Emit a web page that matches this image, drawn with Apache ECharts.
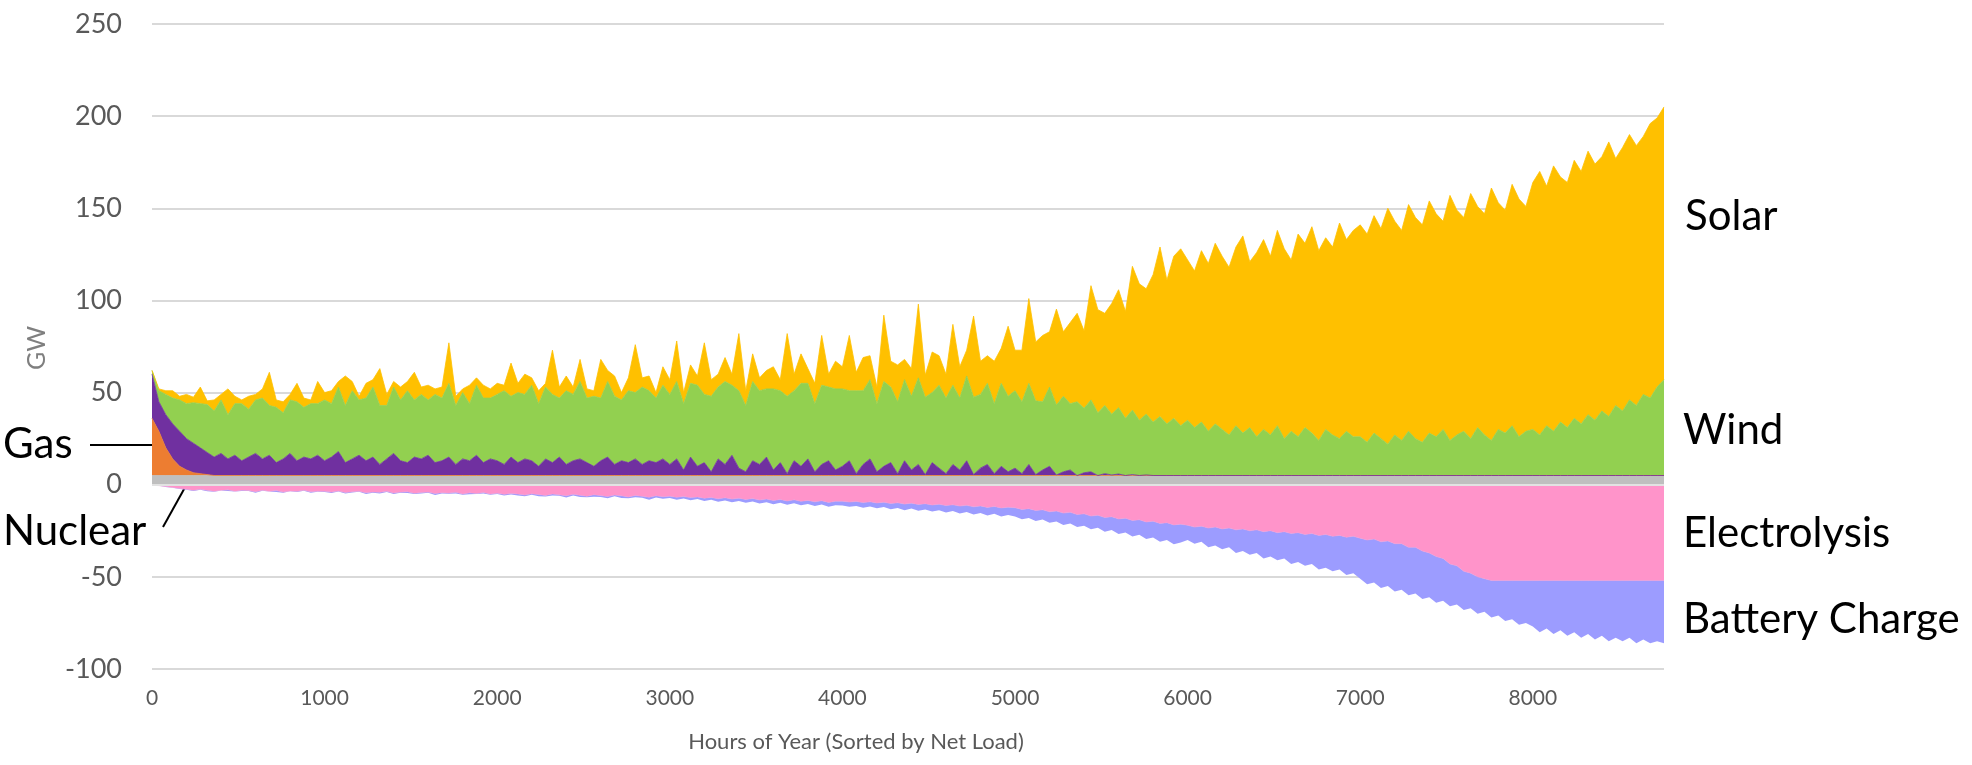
<!DOCTYPE html>
<html><head><meta charset="utf-8">
<script src="https://cdn.jsdelivr.net/npm/echarts@6/dist/echarts.min.js"></script>
<style>html,body{margin:0;padding:0;background:#fff}#c{width:1972px;height:765px}</style>
</head><body><div id="c"></div>
<script>
// Sample points every 40 hours (0 .. 8760), values in GW
const hours = []; for (let i = 0; i < 220; i++) hours.push(String(i * 40));
const xTickEvery = 25; // 25 samples x 40 h = 1000 h between labels
const yTicks = [-100,-50,0,50,100,150,200,250];

const nuclear = [
5,5,5,5,5,5,5,5,5,5,5,5,5,5,5,5,5,5,5,5,5,5,5,5,5,
5,5,5,5,5,5,5,5,5,5,5,5,5,5,5,5,5,5,5,5,5,5,5,5,5,
5,5,5,5,5,5,5,5,5,5,5,5,5,5,5,5,5,5,5,5,5,5,5,5,5,
5,5,5,5,5,5,5,5,5,5,5,5,5,5,5,5,5,5,5,5,5,5,5,5,5,
5,5,5,5,5,5,5,5,5,5,5,5,5,5,5,5,5,5,5,5,5,5,5,5,5,
5,5,5,5,5,5,5,5,5,5,5,5,5,5,5,5,5,5,5,5,5,5,5,5,5,
5,5,5,5,5,5,5,5,5,5,5,5,5,5,5,5,5,5,5,5,5,5,5,5,5,
5,5,5,5,5,5,5,5,5,5,5,5,5,5,5,5,5,5,5,5,5,5,5,5,5,
5,5,5,5,5,5,5,5,5,5,5,5,5,5,5,5,5,5,5,5];
const gas = [
31,24,15,9,5,3,1.5,1,0.5,0,0,0,0,0,0,0,0,0,0,0,0,0,0,0,0,
0,0,0,0,0,0,0,0,0,0,0,0,0,0,0,0,0,0,0,0,0,0,0,0,0,
0,0,0,0,0,0,0,0,0,0,0,0,0,0,0,0,0,0,0,0,0,0,0,0,0,
0,0,0,0,0,0,0,0,0,0,0,0,0,0,0,0,0,0,0,0,0,0,0,0,0,
0,0,0,0,0,0,0,0,0,0,0,0,0,0,0,0,0,0,0,0,0,0,0,0,0,
0,0,0,0,0,0,0,0,0,0,0,0,0,0,0,0,0,0,0,0,0,0,0,0,0,
0,0,0,0,0,0,0,0,0,0,0,0,0,0,0,0,0,0,0,0,0,0,0,0,0,
0,0,0,0,0,0,0,0,0,0,0,0,0,0,0,0,0,0,0,0,0,0,0,0,0,
0,0,0,0,0,0,0,0,0,0,0,0,0,0,0,0,0,0,0,0];
const storageDischarge = [
24,16,18,19,19,17,16,14,12,10,12,9,11,8,10,12,9,11,7,9,12,8,10,9,11,
8,10,13,7,9,11,8,10,6,9,12,8,7,10,9,11,7,8,10,6,9,8,11,7,9,
8,6,10,7,9,8,5,9,7,10,6,8,9,7,5,8,10,6,8,7,9,6,8,7,9,
6,9,3,10,5,7,2,9,6,11,4,2,8,6,10,3,7,1,8,5,9,2,6,8,3,
5,8,1,6,9,2,5,7,1,8,3,6,0.5,7,4,1,6,3,8,0.5,4,6,1,5,2,
4,1,6,0.5,3,5,0.3,2,3,0,1.5,2,0,1,0.3,0.8,0,0.5,0,0.3,0,0,0,0,0,
0,0,0,0,0,0,0,0,0,0,0,0,0,0,0,0,0,0,0,0,0,0,0,0,0,
0,0,0,0,0,0,0,0,0,0,0,0,0,0,0,0,0,0,0,0,0,0,0,0,0,
0,0,0,0,0,0,0,0,0,0,0,0,0,0,0,0,0,0,0,0];
const wind = [
2,6,11,14,17,19,22,24,26,25,29,24,28,31,26,29,33,27,30,25,29,32,27,30,28,
33,29,35,31,37,30,34,38,32,29,36,33,39,31,35,30,37,34,40,32,36,31,38,35,33,
36,40,33,38,35,41,34,39,37,32,40,36,42,35,38,34,41,37,33,39,36,42,38,35,40,
38,42,36,40,44,37,41,39,45,38,42,36,43,40,37,44,39,42,38,45,41,37,43,40,44,
42,38,45,40,43,37,46,41,39,44,40,47,42,38,45,41,43,39,46,42,40,44,38,45,41,
42,39,44,40,37,43,38,41,36,40,35,39,34,37,33,36,31,35,30,33,29,32,28,31,27,
30,26,29,24,28,25,22,27,23,26,21,25,22,27,20,24,21,26,23,19,25,22,20,24,21,
21,18,23,20,17,22,19,24,20,18,23,21,25,19,22,24,20,26,22,19,25,23,27,21,24,
25,22,27,24,29,26,31,28,33,30,35,32,38,35,41,38,44,42,48,52];
const solar = [
0,1,2,4,2,5,3,9,2,6,3,14,4,2,7,3,5,18,4,6,3,10,5,2,12,
4,7,3,16,5,2,8,4,20,6,3,7,5,15,4,8,3,6,22,5,2,10,4,7,5,
6,3,18,5,11,4,7,2,24,6,8,4,12,5,3,21,6,11,4,7,26,5,8,3,10,
8,22,6,10,5,28,9,7,13,6,31,8,15,7,10,12,6,34,9,16,8,11,27,7,15,
12,30,10,18,13,9,36,14,20,11,15,40,12,22,16,13,33,17,14,44,18,15,23,19,38,
22,28,46,32,36,30,52,35,44,48,42,62,56,50,60,64,58,78,74,68,80,92,78,88,96,
87,85,93,91,98,94,91,97,107,90,100,103,97,106,103,93,110,100,112,103,104,102,117,104,112,
115,113,118,114,128,116,114,123,120,118,126,121,113,133,122,116,133,120,120,137,123,121,131,129,122,
134,143,130,144,133,133,140,137,143,139,138,149,134,143,144,141,140,149,146,148];
const electrolysis = [
-0.3,-0.5,-1,-1.5,-2,-2.5,-3,-2.5,-3,-3.5,-3,-2.8,-3.5,-3,-3.2,-3.8,-3,-3.5,-3.2,-4,-3.4,-3.6,-3,-3.8,-3.5,
-3.6,-4,-3.4,-4.2,-3.8,-3.5,-4.4,-3.9,-4.1,-3.6,-4.5,-4,-3.8,-4.6,-4.2,-4,-4.8,-4.3,-4.5,-4.1,-5,-4.4,-4.7,-4.2,-5,
-4.6,-5.2,-4.8,-5,-5.6,-4.9,-5.3,-5.8,-5,-5.5,-6,-5.2,-5.7,-6.2,-5.4,-5.9,-6.4,-5.6,-6,-6.6,-5.8,-6.3,-6.8,-6,-6.5,
-6.2,-6.8,-6.4,-7,-6.6,-7.3,-6.9,-7.6,-7.1,-7.8,-7.3,-8,-7.5,-8.3,-7.8,-8.6,-8,-8.8,-8.2,-9,-8.5,-9.3,-8.7,-9.6,-9,
-9,-9.4,-9.1,-9.7,-9.3,-9.9,-9.5,-10.2,-9.8,-10.5,-10,-10.7,-10.3,-11,-10.6,-11.3,-10.9,-11.6,-11.2,-12,-11.5,-12.3,-11.8,-12.6,-12.2,
-12.5,-13.4,-13,-14,-13.6,-14.7,-14.3,-15.4,-15,-16.2,-15.8,-17,-16.6,-17.8,-17.4,-18.6,-18.2,-19.4,-19,-20.2,-19.8,-21,-20.6,-21.8,-21.4,
-22,-23,-22.5,-23.5,-23,-24,-23.5,-24.5,-24,-25,-24.5,-25.5,-25,-26,-25.5,-26.5,-26,-27,-26.5,-27.5,-27,-28,-27.5,-28.5,-28,
-29,-30,-29.5,-31,-30.5,-32,-32,-34,-34,-36,-37,-39,-40,-43,-44,-47,-48,-50,-51,-52,-52,-52,-52,-52,-52,
-52,-52,-52,-52,-52,-52,-52,-52,-52,-52,-52,-52,-52,-52,-52,-52,-52,-52,-52,-52];
const batteryCharge = [
-0.1,-0.1,-0.2,-0.1,-0.3,-0.2,-0.4,-0.2,-0.5,-0.3,-0.2,-0.6,-0.2,-0.4,-0.2,-0.5,-0.3,-0.2,-0.7,-0.3,-0.2,-0.4,-0.3,-0.5,-0.3,
-0.3,-0.5,-0.3,-0.6,-0.4,-0.3,-0.6,-0.4,-0.7,-0.3,-0.5,-0.4,-0.7,-0.4,-0.5,-0.3,-0.8,-0.5,-0.4,-0.6,-0.5,-0.8,-0.4,-0.6,-0.5,
-0.5,-0.7,-0.5,-0.8,-0.6,-0.6,-0.9,-0.6,-0.8,-0.5,-1,-0.7,-0.9,-0.6,-1.1,-0.7,-0.9,-0.7,-1.2,-0.8,-1,-0.8,-1.3,-0.9,-1.1,
-1,-1.3,-1.1,-1.4,-1.2,-1.5,-1.3,-1.6,-1.4,-1.7,-1.5,-1.8,-1.6,-1.9,-1.7,-2,-1.8,-2.1,-1.9,-2.2,-2,-2.3,-2.1,-2.4,-2.2,
-2.3,-2.6,-2.4,-2.8,-2.5,-2.9,-2.6,-3.1,-2.8,-3.3,-2.9,-3.4,-3.1,-3.6,-3.2,-3.8,-3.4,-4,-3.6,-4.2,-3.8,-4.4,-4,-4.6,-4.2,
-4.8,-5.4,-5,-5.7,-5.3,-6,-5.6,-6.4,-6,-6.8,-6.4,-7.2,-6.8,-7.7,-7.2,-8.2,-7.7,-8.7,-8.2,-9.3,-8.8,-9.9,-9.4,-10.5,-10,
-8,-9,-8.5,-10.5,-10,-11,-10.5,-12.5,-12,-13,-12.5,-14.5,-14,-15,-14.5,-16.5,-16,-17,-16.5,-18.5,-18,-19,-18.5,-20.5,-20,
-22,-24,-23.5,-25,-24.5,-26,-25,-26,-25,-26,-24,-25,-23,-23,-21,-21,-19,-20,-18,-20,-19,-22,-21,-24,-23,
-25,-28,-26,-29,-27,-30,-28,-31,-29,-32,-30,-33,-31,-33,-31,-34,-32,-34,-33,-34];

const FONT = 'Lato';
function area(name, values, color, stack, lw) {
  return {
    name, type: 'line', stack, data: values,
    symbol: 'none', showSymbol: false, silent: true, animation: false,
    lineStyle: { width: lw, color }, itemStyle: { color },
    areaStyle: { color, opacity: 1 }
  };
}
const series = [
  area('Nuclear', nuclear, '#BFBFBF', 'pos', 0.8),
  area('Gas', gas, '#ED7D31', 'pos', 0.8),
  area('Storage Discharge', storageDischarge, '#7030A0', 'pos', 0.8),
  area('Wind', wind, '#92D050', 'pos', 0.8),
  area('Solar', solar, '#FFC000', 'pos', 0.8),
  area('Electrolysis', electrolysis, '#FF94CA', 'neg', 0.5),
  area('Battery Charge', batteryCharge, '#9C9CFF', 'neg', 0)
];
series[6].markLine = {
  silent: true, symbol: 'none', animation: false, label: { show: false },
  lineStyle: { color: '#E2E2E2', width: 2, type: 'solid' }, data: [{ yAxis: 0 }]
};

const chart = echarts.init(document.getElementById('c'), null, { renderer: 'canvas' });
const bigText = (text, x, y) => ({ type: 'text', x, y, style: { text, fill: '#000', font: '42px ' + FONT, textAlign: 'left', textVerticalAlign: 'middle' } });
chart.setOption({
  animation: false,
  backgroundColor: '#fff',
  grid: { left: 152, right: 308, top: 24, bottom: 96, containLabel: false },
  xAxis: {
    type: 'category', data: hours, boundaryGap: false,
    axisLine: { show: false }, axisTick: { show: false }, splitLine: { show: false },
    axisLabel: { color: '#595959', fontSize: 21, fontFamily: FONT, margin: 19, interval: xTickEvery - 1 }
  },
  yAxis: {
    type: 'value', min: yTicks[0], max: yTicks[yTicks.length - 1], interval: 50,
    axisLine: { show: false }, axisTick: { show: false },
    splitLine: { lineStyle: { color: '#D9D9D9', width: 2 } },
    axisLabel: { color: '#595959', fontSize: 27, fontFamily: FONT, margin: 30 }
  },
  series,
  graphic: [
    { type: 'text', x: 37, y: 348, rotation: Math.PI / 2,
      style: { text: 'GW', fill: '#7F7F7F', font: '25px ' + FONT, textAlign: 'center', textVerticalAlign: 'middle' } },
    { type: 'text', x: 856, y: 742,
      style: { text: 'Hours of Year (Sorted by Net Load)', fill: '#595959', font: '22px ' + FONT, textAlign: 'center', textVerticalAlign: 'middle' } },
    bigText('Solar', 1685, 216),
    bigText('Wind', 1683, 430),
    bigText('Electrolysis', 1683, 533),
    bigText('Battery Charge', 1683, 619),
    bigText('Gas', 3, 444),
    bigText('Nuclear', 3, 531),
    { type: 'line', shape: { x1: 90, y1: 445, x2: 152, y2: 445 }, style: { stroke: '#000', lineWidth: 2 } },
    { type: 'line', shape: { x1: 163, y1: 527, x2: 188, y2: 482 }, style: { stroke: '#000', lineWidth: 2 } }
  ]
});
</script>
</body></html>
